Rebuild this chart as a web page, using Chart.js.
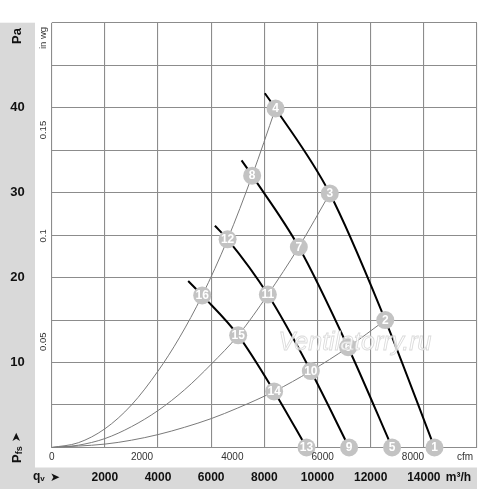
<!DOCTYPE html>
<html>
<head>
<meta charset="utf-8">
<script src="https://cdn.jsdelivr.net/npm/chart.js@4/dist/chart.umd.min.js"></script>
<style>
html,body{margin:0;padding:0;background:#fff;}
#wrap{position:relative;width:500px;height:489px;}
</style>
</head>
<body>
<div id="wrap"><canvas id="c" width="500" height="489"></canvas></div>
<script>
// ---- Data ----
// Fan curves: airflow qv [m3/h], static pressure pfs [Pa]
const fanA_q = [8019, 8421, 10462, 12549, 14400];
const fanA_p = [41.7, 39.9, 29.9, 15.0, 0];
const fanA_labels = [null, '4', '3', '2', '1'];

const fanB_q = [7143, 7541, 9297, 11151, 12805];
const fanB_p = [33.8, 32.0, 23.6, 11.8, 0];
const fanB_labels = [null, '8', '7', '6', '5'];

const fanC_q = [6139, 6617, 8132, 9748, 11188];
const fanC_p = [26.1, 24.5, 18.0, 9.0, 0];
const fanC_labels = [null, '12', '11', '10', '9'];

const fanD_q = [5135, 5662, 7015, 8368, 9586];
const fanD_p = [19.6, 17.9, 13.2, 6.6, 0];
const fanD_labels = [null, '16', '15', '14', '13'];

// System (resistance) curves
const sys1_q = [0, 1000, 2000, 3000, 4000, 4800, 5662, 6617, 7541, 8421];
const sys1_p = [0, 0.56, 2.2, 5.0, 9.0, 12.9, 17.9, 24.5, 32.0, 39.9];
const sys2_q = [0, 1000, 2000, 3000, 4000, 5000, 6000, 7015, 8132, 9297, 10462];
const sys2_p = [0, 0.27, 1.05, 2.45, 4.35, 6.8, 9.8, 13.2, 18.0, 23.6, 29.9];
const sys3_q = [0, 2000, 3000, 4000, 5000, 6000, 7000, 8368, 9748, 11151, 12549];
const sys3_p = [0, 0.4, 0.86, 1.52, 2.38, 3.4, 4.65, 6.6, 9.0, 11.8, 15.0];

// Axis ticks
const paTicks = [10, 20, 30, 40];
const inwgTicks = [0.05, 0.1, 0.15];
const cfmTicks = [0, 2000, 4000, 6000, 8000];
const m3hTicks = [2000, 4000, 6000, 8000, 10000, 12000, 14000];
const PA_PER_INWG = 249.089;
const M3H_PER_CFM = 1.699;

// ---- build datasets ----
function pts(q, p) { return q.map((v, i) => ({x: v, y: p[i]})); }
const fans = [[fanA_q, fanA_p, fanA_labels], [fanB_q, fanB_p, fanB_labels],
              [fanC_q, fanC_p, fanC_labels], [fanD_q, fanD_p, fanD_labels]];
const markerPts = [], markerTxt = [];
fans.forEach(([q, p, l]) => {
  l.forEach((t, i) => { if (t) { markerPts.push({x: q[i], y: p[i]}); markerTxt.push(t); } });
});

const FONT = '"Liberation Sans", Arial, Helvetica, sans-serif';

const sysStyle = {borderColor: '#7a7a7a', borderWidth: 1, pointRadius: 0, cubicInterpolationMode: 'monotone', fill: false, order: 3};
const fanStyle = {borderColor: '#000', borderWidth: 2, pointRadius: 0, cubicInterpolationMode: 'monotone', fill: false, order: 2, clip: false};

const datasets = [
  Object.assign({data: pts(sys1_q, sys1_p)}, sysStyle),
  Object.assign({data: pts(sys2_q, sys2_p)}, sysStyle),
  Object.assign({data: pts(sys3_q, sys3_p)}, sysStyle),
  Object.assign({data: pts(fanA_q, fanA_p)}, fanStyle),
  Object.assign({data: pts(fanB_q, fanB_p)}, fanStyle),
  Object.assign({data: pts(fanC_q, fanC_p)}, fanStyle),
  Object.assign({data: pts(fanD_q, fanD_p)}, fanStyle),
  {type: 'scatter', data: markerPts, showLine: false, pointRadius: 9, pointHoverRadius: 9, clip: false,
   pointBackgroundColor: '#c3c3c3', pointBorderWidth: 0, backgroundColor: '#c3c3c3', borderWidth: 0, order: -1}
];
const MARKER_DS = datasets.length - 1;

const decor = {
  id: 'decor',
  beforeDraw(chart) {
    const ctx = chart.ctx, a = chart.chartArea;
    ctx.save();
    ctx.fillStyle = '#fff';
    ctx.fillRect(0, 0, chart.width, chart.height);
    ctx.fillStyle = '#d9d9d9';
    ctx.fillRect(0, a.top, 35, chart.height - a.top);
    ctx.fillRect(0, 467.5, a.right, chart.height - 467.5);
    ctx.restore();
  },
  afterDatasetsDraw(chart) {
    const ctx = chart.ctx;
    const meta = chart.getDatasetMeta(MARKER_DS);
    ctx.save();
    ctx.fillStyle = '#fff';
    ctx.font = 'bold 12px ' + FONT;
    ctx.textAlign = 'center';
    ctx.textBaseline = 'middle';
    meta.data.forEach((el, i) => { ctx.fillText(markerTxt[i], el.x, el.y + 0.5); });
    ctx.restore();
  },
  afterDraw(chart) {
    const ctx = chart.ctx, a = chart.chartArea;
    const xs = chart.scales.x, ys = chart.scales.y;
    ctx.save();
    // Pa labels (left band)
    ctx.fillStyle = '#111';
    ctx.font = 'bold 13px ' + FONT;
    ctx.textAlign = 'center';
    ctx.textBaseline = 'middle';
    paTicks.forEach(v => ctx.fillText(String(v), 17.5, ys.getPixelForValue(v)));
    // "Pa" rotated
    ctx.save();
    ctx.translate(17, 36);
    ctx.rotate(-Math.PI / 2);
    ctx.fillText('Pa', 0, 0);
    ctx.restore();
    // "Pfs ➤" rotated
    ctx.save();
    ctx.translate(17, 463);
    ctx.rotate(-Math.PI / 2);
    ctx.textAlign = 'left';
    ctx.font = 'bold 13px ' + FONT;
    ctx.fillText('P', 0, 0);
    let w = ctx.measureText('P').width;
    ctx.font = 'bold 9px ' + FONT;
    ctx.fillText('fs', w, 2.5);
    w += ctx.measureText('fs').width + 4;
    ctx.font = 'bold 12px "DejaVu Sans", ' + FONT;
    ctx.fillText('\u27A4', w, 0);
    ctx.restore();
    // in wg labels
    ctx.fillStyle = '#333';
    ctx.font = '9.5px ' + FONT;
    ctx.save();
    ctx.translate(43.5, 38);
    ctx.rotate(-Math.PI / 2);
    ctx.fillText('in wg', 0, 0);
    ctx.restore();
    inwgTicks.forEach(v => {
      ctx.save();
      ctx.translate(43.5, ys.getPixelForValue(v * PA_PER_INWG));
      ctx.rotate(-Math.PI / 2);
      ctx.fillText(String(v), 0, 0);
      ctx.restore();
    });
    // cfm labels
    ctx.font = '10px ' + FONT;
    cfmTicks.forEach(v => ctx.fillText(String(v), xs.getPixelForValue(v * M3H_PER_CFM), 457));
    ctx.fillText('cfm', 465, 457);
    // bottom band m3/h
    ctx.fillStyle = '#111';
    ctx.font = 'bold 12px ' + FONT;
    m3hTicks.forEach(v => ctx.fillText(String(v), xs.getPixelForValue(v), 478));
    ctx.fillText('m\u00B3/h', 458.5, 478);
    ctx.textAlign = 'left';
    ctx.fillText('q', 33, 477);
    let qw = ctx.measureText('q').width;
    ctx.font = 'bold 8px ' + FONT;
    ctx.fillText('v', 33 + qw, 479);
    ctx.font = 'bold 12px "DejaVu Sans", ' + FONT;
    ctx.fillText('\u27A4', 50, 478);
    // watermark
    ctx.font = 'italic 25px ' + FONT;
    ctx.textAlign = 'center';
    ctx.globalAlpha = 0.8;
    ctx.fillStyle = '#fff';
    ctx.fillText('Ventilatorry.ru', 355, 343);
    ctx.strokeStyle = '#cfcfcf';
    ctx.lineWidth = 0.8;
    ctx.strokeText('Ventilatorry.ru', 355, 343);
    ctx.restore();
  }
};

new Chart(document.getElementById('c'), {
  type: 'line',
  data: {datasets},
  options: {
    responsive: false,
    animation: false,
    devicePixelRatio: 1,
    layout: {padding: {left: 51.7, top: 22.7, right: 23, bottom: 41.5}},
    plugins: {legend: {display: false}, tooltip: {enabled: false}},
    events: [],
    scales: {
      x: {
        type: 'linear', min: 0, max: 16000,
        ticks: {display: false, stepSize: 2000},
        grid: {color: '#8c8c8c', lineWidth: 1.1, drawTicks: false},
        border: {display: false},
        afterFit: s => { s.height = 0; }
      },
      y: {
        type: 'linear', min: 0, max: 50,
        ticks: {display: false, stepSize: 5},
        grid: {color: '#8c8c8c', lineWidth: 1.1, drawTicks: false},
        border: {display: false},
        afterFit: s => { s.width = 0; }
      }
    }
  },
  plugins: [decor]
});
</script>
</body>
</html>
